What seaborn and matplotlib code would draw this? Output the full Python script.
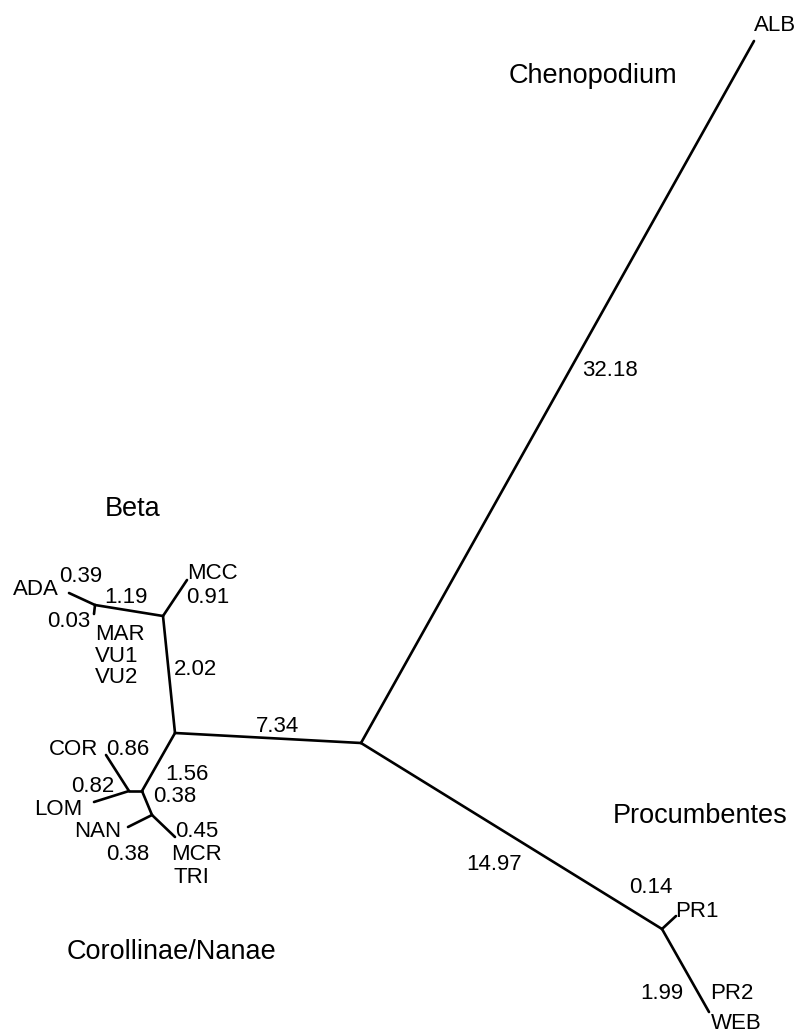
import pandas as pd
import seaborn as sns
import matplotlib.pyplot as plt

sns.set_theme(style="white")
plt.rcParams["font.family"] = ["Liberation Sans", "DejaVu Sans"]
plt.rcParams["text.color"] = "black"

# tree nodes (drawing space, y grows downward)
node_names = ["root", "ALB", "PROC", "PR1", "WEB", "BC", "BETA", "MCC", "AM",
              "ADA", "MAR", "C1", "CL", "COR", "LOM", "NM", "NAN", "MCR"]
node_x = [361, 754, 662, 676, 709, 175, 163, 187, 95,
          69, 94, 142, 129, 106, 94, 152, 128, 175]
node_y = [743, 41, 929, 916, 1012, 733, 616, 580, 605,
          593, 614, 791, 791, 755, 802, 815, 827, 837]

# branches (from -> to)
edge_from = ["root", "root", "PROC", "PROC", "root", "BC", "BETA", "BETA", "AM", "AM",
             "BC", "C1", "CL", "CL", "C1", "NM", "NM"]
edge_to = ["ALB", "PROC", "PR1", "WEB", "BC", "BETA", "MCC", "AM", "ADA", "MAR",
           "C1", "CL", "COR", "LOM", "NM", "NAN", "MCR"]

# branch length labels
blen_text = ["32.18", "14.97", "0.14", "1.99", "7.34", "2.02", "0.91", "1.19",
             "0.39", "0.03", "1.56", "0.86", "0.82", "0.38", "0.38", "0.45"]
blen_x = [610, 494, 651, 662, 278, 196, 208, 126, 81, 69, 187, 128, 93, 175, 128, 197]
blen_y = [376, 870, 893, 999, 732, 675, 603, 603, 582, 627, 780, 755, 792, 802, 860, 837]

# taxon labels
taxa = ["ALB", "PR1", "PR2", "WEB", "MCC", "ADA", "MAR", "VU1", "VU2",
        "COR", "LOM", "NAN", "MCR", "TRI"]
taxa_x = [775, 697, 732, 736, 212, 36, 120, 117, 117, 74, 58, 98, 197, 191]
taxa_y = [31, 917, 999, 1029, 579, 595, 640, 662, 683, 755, 815, 837, 860, 883]

# group names
groups = ["Chenopodium", "Beta", "Procumbentes", "Corollinae/Nanae"]
group_x = [593, 133, 700, 172]
group_y = [83, 516, 823, 959]

pos = {n: (x, y) for n, x, y in zip(node_names, node_x, node_y)}
rows = []
for i, (a, b) in enumerate(zip(edge_from, edge_to)):
    for n in (a, b):
        rows.append({"edge": i, "x": pos[n][0], "y": pos[n][1]})
df = pd.DataFrame(rows)

fig = plt.figure(figsize=(8.12, 10.33), dpi=100)
ax = fig.add_axes([0, 0, 1, 1])
sns.lineplot(data=df, x="x", y="y", units="edge", estimator=None, sort=False,
             color="black", linewidth=1.9, ax=ax, legend=False)

for t, x, y in zip(blen_text, blen_x, blen_y):
    ax.text(x, y, t, ha="center", va="baseline", fontsize=16, color="black")
for t, x, y in zip(taxa, taxa_x, taxa_y):
    ax.text(x, y, t, ha="center", va="baseline", fontsize=16, color="black")
for t, x, y in zip(groups, group_x, group_y):
    ax.text(x, y, t, ha="center", va="baseline", fontsize=19.5, color="black")

ax.set_xlim(0, 812)
ax.set_ylim(1033, 0)
ax.axis("off")
plt.savefig("out.png", dpi=100)
